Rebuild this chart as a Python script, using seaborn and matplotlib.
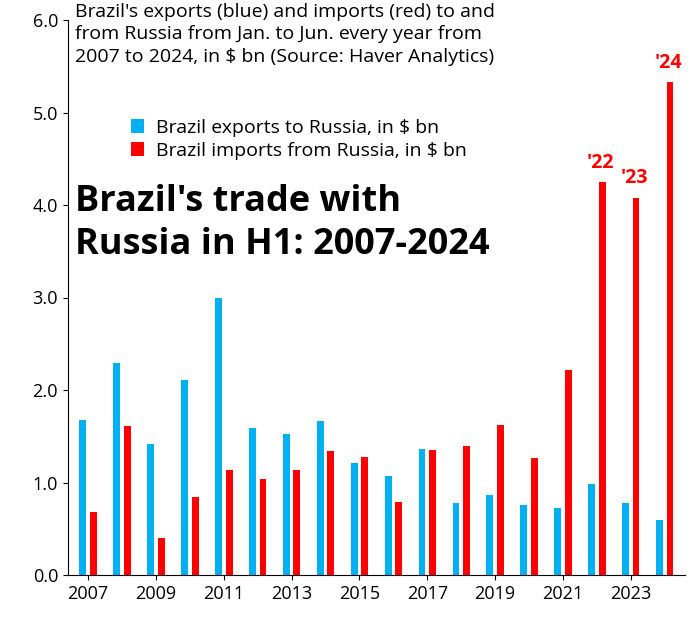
import matplotlib.pyplot as plt
import seaborn as sns
import pandas as pd

years = list(range(2007, 2025))
exports = [1.68, 2.29, 1.42, 2.11, 3.00, 1.59, 1.52, 1.66, 1.21, 1.07,
           1.36, 0.78, 0.86, 0.76, 0.72, 0.98, 0.78, 0.59]
imports = [0.68, 1.61, 0.40, 0.84, 1.13, 1.04, 1.14, 1.34, 1.28, 0.79,
           1.35, 1.40, 1.62, 1.26, 2.22, 4.25, 4.08, 5.33]
exp_label = "Brazil exports to Russia, in $ bn"
imp_label = "Brazil imports from Russia, in $ bn"

df = pd.DataFrame({
    "year": [str(y) for y in years] * 2,
    "value": exports + imports,
    "series": [exp_label] * len(years) + [imp_label] * len(years),
})

plt.rcParams["font.family"] = "Open Sans"
fig = plt.figure(figsize=(6.92, 6.25), dpi=100)
ax = fig.add_axes([0.098, 0.08, 0.892, 0.888])
sns.barplot(data=df, x="year", y="value", hue="series",
            palette=["#00b0f0", "#ff0000"], width=0.62, gap=0.35,
            ax=ax, saturation=1)

ax.set_ylim(0, 6)
ax.set_yticks([0, 1, 2, 3, 4, 5, 6])
ax.set_yticklabels([f"{v:.1f}" for v in range(7)], fontsize=13)
ax.set_xticks(range(0, len(years), 2))
ax.set_xticklabels([str(y) for y in years[::2]], fontsize=13)
ax.set_xlabel("")
ax.set_ylabel("")
ax.set_xlim(-0.6, len(years) - 0.4)
sns.despine(ax=ax)

# labels over the last three red bars
for i, lab in [(15, "'22"), (16, "'23"), (17, "'24")]:
    ax.text(i + 0.1, imports[i] + 0.1, lab, color="#ff0000", fontsize=14,
            fontweight="bold", ha="center", va="bottom")

fig.text(0.108, 0.995, "Brazil's exports (blue) and imports (red) to and\n"
         "from Russia from Jan. to Jun. every year from\n"
         "2007 to 2024, in $ bn (Source: Haver Analytics)",
         fontsize=14, va="top", ha="left", linespacing=1.3)
ax.legend(loc="upper left", bbox_to_anchor=(0.175, 0.825),
          bbox_transform=fig.transFigure, frameon=False,
          fontsize=14, handlelength=0.7, handleheight=0.7,
          borderpad=0, labelspacing=0.25, handletextpad=0.6)
fig.text(0.108, 0.705, "Brazil's trade with\nRussia in H1: 2007-2024",
         fontsize=26, fontweight="bold", va="top", ha="left", linespacing=1.25)

fig.savefig("out.png", dpi=100)
